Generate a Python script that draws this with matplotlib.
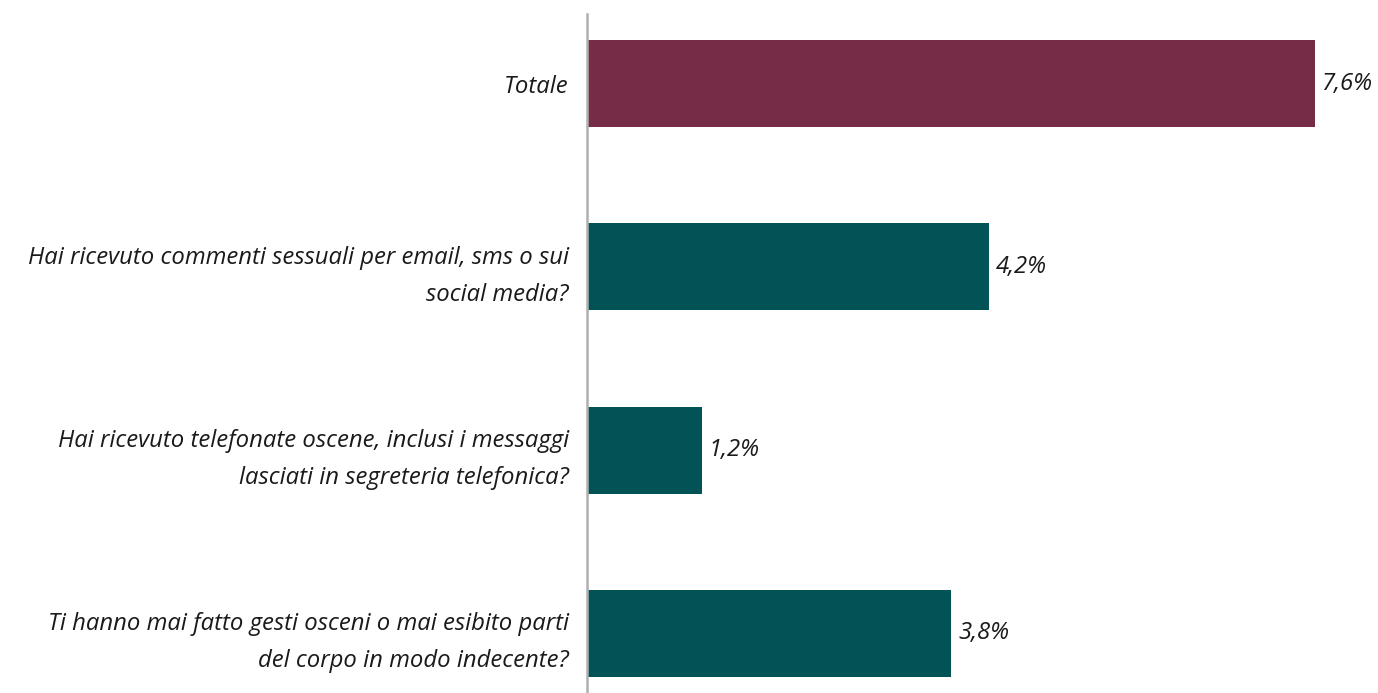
import matplotlib.pyplot as plt
import numpy as np

# dati
categorie = ['Totale',
             'Hai ricevuto commenti sessuali per email, sms o sui\nsocial media?',
             'Hai ricevuto telefonate oscene, inclusi i messaggi\nlasciati in segreteria telefonica?',
             'Ti hanno mai fatto gesti osceni o mai esibito parti\ndel corpo in modo indecente?']
valori = [7.6, 4.2, 1.2, 3.8]
etichette = ['7,6%', '4,2%', '1,2%', '3,8%']
colori = ['#762c46', '#025356', '#025356', '#025356']

plt.rcParams['font.family'] = ['Open Sans', 'DejaVu Sans']

fig = plt.figure(figsize=(13.78, 6.93), dpi=100)
ax = fig.add_axes([587/1378, 0, 1 - 587/1378, 1 - 14/693])

y = np.arange(len(categorie))
ax.barh(y, valori, height=0.475, color=colori)
ax.set_ylim(3.325, -0.38)
ax.set_xlim(0, (1378 - 587) / 95.8)

for yi, v, t in zip(y, valori, etichette):
    ax.annotate(t, (v, yi), xytext=(5, 0), textcoords='offset points',
                va='center', ha='left', fontsize=17.2, style='italic', color='#1a1a1a')

ax.set_yticks(y)
ax.set_yticklabels(categorie, fontsize=17.2, style='italic', color='#1a1a1a',
                   linespacing=1.72)
ax.tick_params(axis='y', length=0, pad=13)
ax.set_xticks([])
for s in ['top', 'right', 'bottom']:
    ax.spines[s].set_visible(False)
ax.spines['left'].set_color('#b0b0b0')
ax.spines['left'].set_linewidth(1.8)

fig.savefig('out.png', dpi=100)
